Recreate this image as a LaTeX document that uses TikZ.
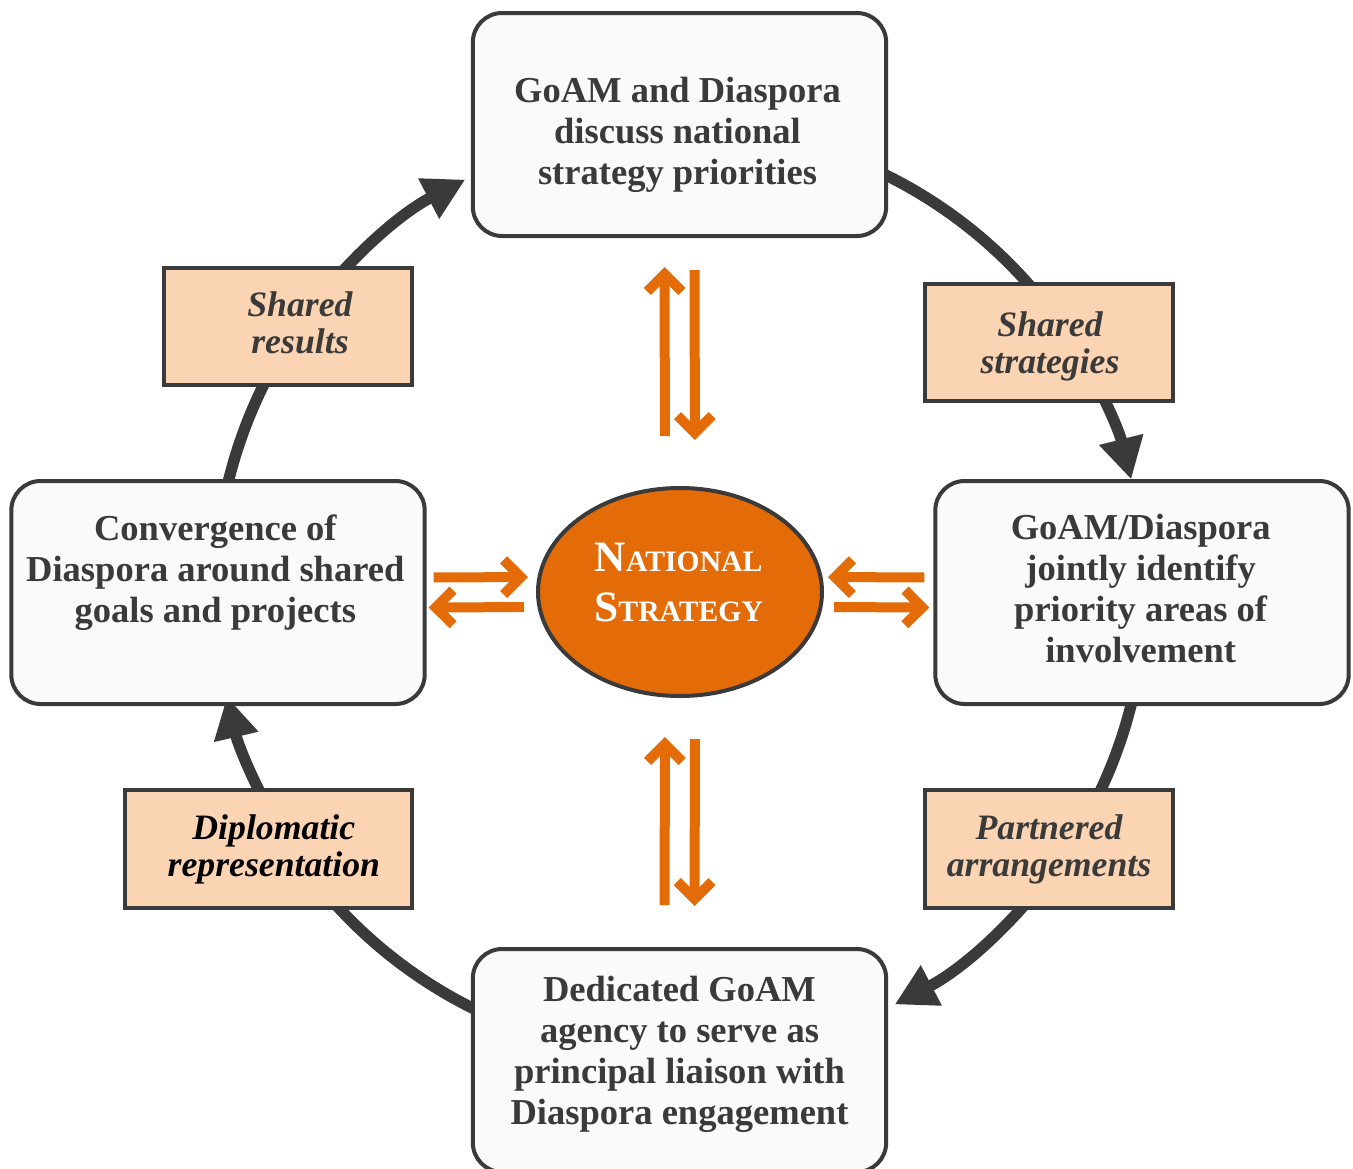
\documentclass[tikz,border=0pt]{standalone}
\usepackage{fontspec}
\setmainfont{Liberation Serif}
\usetikzlibrary{arrows.meta,shapes.geometric}
\definecolor{dk}{HTML}{3A3A3A}
\definecolor{org}{HTML}{E36C09}
\definecolor{peach}{HTML}{FBD4B4}
\definecolor{boxfill}{HTML}{FAFAFA}
\newcommand\nudge[3]{\raisebox{#2}[\height][\depth]{\rlap{\hspace*{#1}#3}\phantom{#3}}}
\newcommand\lines[1]{\begin{tabular}{@{}c@{}}#1\end{tabular}}
\newcommand\NS[2]{{\fontsize{32.5}{37.5}\selectfont #1}{\fontsize{22.25}{37.5}\selectfont #2}}
\tikzset{
 mainbox/.style={draw=dk, line width=3pt, fill=boxfill, rounded corners=22pt, minimum width=310pt, minimum height=167.25pt, inner sep=0pt, text=dk, font=\fontsize{27.4}{30.75}\selectfont\bfseries},
 tag/.style={draw=dk, line width=3pt, fill=peach, minimum height=88pt, inner sep=0pt, text=dk, font=\fontsize{26.8}{27.75}\selectfont\bfseries\itshape},
 cyc/.style={draw=dk, line width=8.5pt},
 cyctip/.style={cyc, -{Triangle[length=31pt,width=32pt]}},
 oarr/.style={draw=org, line width=7.5pt, -{Straight Barb[length=13pt,width=26pt]}}
}
\begin{document}
\begin{tikzpicture}[x=0.75pt,y=-0.75pt]
\path[use as bounding box] (0,0) rectangle (1353,1168);
\clip (0,0) rectangle (1353,1168);
\fill[white] (0,0) rectangle (1353,1168);
\coordinate (C) at (680,592);
% cycle arcs
\draw[cyctip] (C) ++(-146:465) arc[start angle=-146,end angle=-117.5,radius=465];
\draw[cyc] (C) ++(-90:465) arc[start angle=-90,end angle=-34,radius=465];
\draw[cyctip] (C) ++(-34:465) arc[start angle=-34,end angle=-14,radius=465];
\draw[cyc] (C) ++(0:465) arc[start angle=0,end angle=33,radius=465];
\draw[cyctip] (C) ++(33:465) arc[start angle=33,end angle=62.5,radius=465];
\draw[cyc] (C) ++(90:465) arc[start angle=90,end angle=148,radius=465];
\draw[cyctip] (C) ++(148:465) arc[start angle=148,end angle=167,radius=465];
\draw[cyc] (C) ++(180:465) arc[start angle=180,end angle=214,radius=465];
% main boxes
\node[mainbox] (top) at (679.5,124.5) {\nudge{-1.5pt}{-8pt}{\lines{GoAM and Diaspora\\discuss national\\strategy priorities}}};
\node[mainbox] (left) at (218,592.5) {\nudge{-2pt}{14.6pt}{\lines{Convergence of\\Diaspora around shared\\goals and projects}}};
\node[mainbox] (right) at (1142,592.5) {\nudge{-1pt}{0pt}{\lines{GoAM/Diaspora\\jointly identify\\priority areas of\\involvement}}};
\node[mainbox] (bottom) at (679.5,1060.5) {\nudge{0pt}{4pt}{\lines{Dedicated GoAM\\agency to serve as\\principal liaison with\\Diaspora engagement}}};
% centre
\node[ellipse, draw=dk, line width=3pt, fill=org, minimum width=213pt, minimum height=156pt, inner sep=0pt, text=white, font=\fontsize{32.5}{37.5}\selectfont\bfseries] (ns) at (680,592) {\nudge{-1pt}{4pt}{\lines{\NS{N}{ATIONAL}\\\NS{S}{TRATEGY}}}};
% tags
\node[tag, minimum width=186pt] (sr) at (288,326.5) {\nudge{9pt}{-1pt}{\lines{Shared\\results}}};
\node[tag, minimum width=186pt] (ss) at (1049,342.5) {\nudge{0.75pt}{-4pt}{\lines{Shared\\strategies}}};
\node[tag, minimum width=215.25pt, text=black] (dr) at (268.5,849) {\nudge{4pt}{-1pt}{\lines{Diplomatic\\representation}}};
\node[tag, minimum width=186pt] (pa) at (1049,849) {\nudge{0pt}{-1pt}{\lines{Partnered\\arrangements}}};
% orange exchange arrows
\draw[oarr, shorten <=37.5pt, shorten >=21.75pt] ([xshift=-11.25pt]ns.north) -- ([xshift=-11.25pt]top.south);
\draw[oarr, shorten <=24pt, shorten >=34.5pt] ([xshift=11.25pt]top.south) -- ([xshift=11.25pt]ns.north);
\draw[oarr, shorten <=31.5pt, shorten >=29.25pt] ([xshift=-11.25pt]bottom.north) -- ([xshift=-11.25pt]ns.south);
\draw[oarr, shorten <=30.75pt, shorten >=30.75pt] ([xshift=11.25pt]ns.south) -- ([xshift=11.25pt]bottom.north);
\draw[oarr, shorten <=5.25pt, shorten >=6pt] ([yshift=11.25pt]left.east) -- ([yshift=11.25pt]ns.west);
\draw[oarr, shorten <=9pt, shorten >=1.5pt] ([yshift=-11.25pt]ns.west) -- ([yshift=-11.25pt]left.east);
\draw[oarr, shorten <=6.75pt, shorten >=3pt] ([yshift=11.25pt]right.west) -- ([yshift=11.25pt]ns.east);
\draw[oarr, shorten <=7.5pt, shorten >=3pt] ([yshift=-11.25pt]ns.east) -- ([yshift=-11.25pt]right.west);
\end{tikzpicture}
\end{document}
